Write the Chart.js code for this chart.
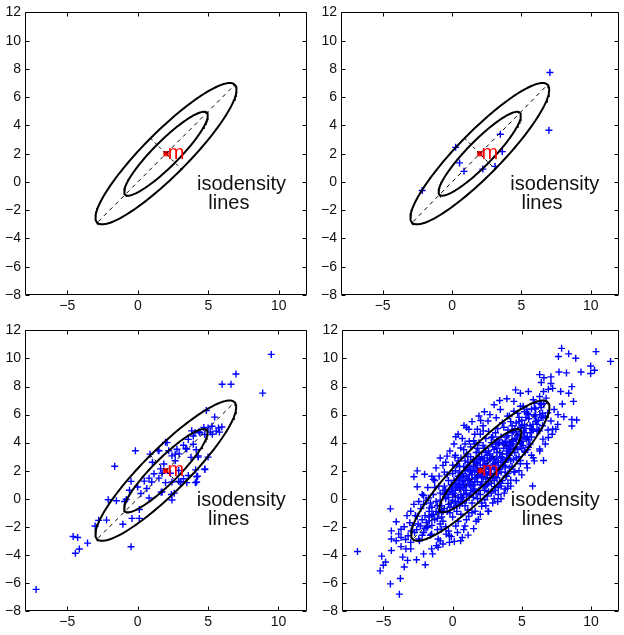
<!DOCTYPE html>
<html>
<head>
<meta charset="utf-8">
<script src="https://cdn.jsdelivr.net/npm/chart.js@4/dist/chart.umd.min.js"></script>
<style>
	html, body { margin: 0; padding: 0; background: #fff; }
	#page { position: relative; width: 624px; height: 635px; overflow: hidden; }
	.panel { position: absolute; }
</style>
</head>
<body>
<div id="page"></div>
<script>

// axis ticks (same for every panel)
const xTicks = [-5, 0, 5, 10];
const yTicks = [-8, -6, -4, -2, 0, 2, 4, 6, 8, 10, 12];
const xRange = [-8, 12];
const yRange = [-8, 12];

// gaussian: mean and the two isodensity ellipses (semi axes along 45 deg)
const mean = [2, 2];
const innerAxes = [4.1, 0.9];
const outerAxes = [6.9, 1.55];
const majorAxis = [[-2.8, -2.8], [6.8, 6.8]];
const minorAxis = [[0.9, 3.1], [3.1, 0.9]];

const labelLines = ['isodensity', 'lines'];
const labelAt = [[4.2, -0.15], [5.0, -1.5]];

// samples
const samplesA = [];

const samplesB = [
	[7.05, 7.75], [6.98, 3.66], [-2.15, -0.6], [0.26, 2.45], [0.54, 1.35],
	[0.86, 0.75], [2.22, 0.91], [3.10, 1.10], [3.48, 3.38], [3.62, 2.15]
];

const samplesC = [
	[9.49, 10.29], [6.98, 8.89], [6.63, 8.16], [6.0, 8.16], [8.88, 7.53], [4.88, 6.29], [5.47, 5.82],
	[5.0, 5.05], [5.28, 5.17], [5.74, 5.05], [5.98, 5.12], [5.58, 4.82], [5.81, 4.75], [5.16, 4.75],
	[4.77, 4.58], [4.42, 4.70], [3.95, 4.47], [3.60, 4.23], [3.26, 3.81], [2.79, 3.53], [3.95, 3.88],
	[3.42, 3.58], [4.16, 3.49], [4.30, 3.06], [3.79, 2.95], [4.77, 2.13], [4.12, 2.06], [4.26, 1.61],
	[4.19, 1.19], [3.60, 1.66], [3.26, 1.43], [2.91, 1.24], [2.91, 2.01], [2.33, 1.82], [2.67, 2.71],
	[2.44, 3.06], [2.21, 3.42], [2.09, 4.0], [1.51, 3.42], [0.88, 3.18], [-0.16, 3.42], [-1.63, 2.32],
	[1.86, 2.48], [1.63, 2.13], [1.74, 1.82], [1.51, 1.47], [1.0, 1.19], [0.81, 1.47], [1.16, 1.78],
	[0.65, 0.73], [0.23, 0.37], [0.0, 0.84], [0.47, 1.26], [2.44, 1.19], [1.98, 1.15], [1.74, 0.49],
	[2.40, 0.30], [2.44, -0.09], [3.02, 1.19], [3.49, 1.15], [1.05, 2.60], [2.67, 3.18], [-0.47, 1.24],
	[-0.58, 0.61], [-0.81, -0.05], [-1.51, -0.14],
	[4.70, 5.08], [4.37, 4.77], [4.07, 4.72], [3.84, 4.84], [4.3, 2.97], [5.0, 2.97], [4.77, 2.08],
	[4.19, 1.57], [3.07, 1.22], [0.81, 0.05], [1.67, 0.47], [2.6, 0.4], [-0.93, -0.19], [0.12, -0.77],
	[-0.4, -1.4], [0.12, -1.4], [-1.05, -1.82], [-2.09, -0.07], [-2.21, -1.52], [-2.77, -1.54],
	[-3.02, -1.94], [-0.47, -3.42], [-3.56, -3.16], [-4.14, -3.58], [-4.26, -2.76], [-4.58, -2.69],
	[-4.42, -3.88], [-7.21, -6.46], [1.98, 4.02], [1.47, 3.44], [2.95, 3.2], [3.49, 3.55], [5.3, 4.6],
	[4.1, 1.15]
];

const samplesD = [
	// outer cloud
	[11.42, 9.79], [10.26, 9.16], [10.37, 10.49], [9.98, 9.46], [9.98, 8.93], [9.28, 9.04], [8.90, 10.02],
	[8.39, 10.33], [7.88, 10.72], [7.65, 10.14], [7.69, 9.04], [8.23, 8.97], [7.11, 8.69], [7.11, 8.22],
	[6.60, 8.62], [6.29, 8.85], [6.41, 8.29], [6.92, 7.80], [7.23, 7.87], [6.57, 7.64], [5.48, 7.64],
	[4.55, 7.76], [4.90, 7.52], [3.92, 7.13], [4.43, 6.94], [3.45, 6.36], [3.96, 5.89], [7.81, 7.64],
	[8.62, 7.99], [8.74, 6.94], [8.39, 7.52], [7.93, 6.75], [7.62, 6.0], [8.04, 5.84], [8.62, 5.65],
	[8.97, 5.61], [8.62, 5.19], [7.46, 4.95], [7.23, 4.95], [6.92, 4.37], [6.53, 4.25], [6.29, 3.55],
	[6.57, 2.73], [5.83, 2.92], [5.36, 2.50], [5.78, 0.91], [3.96, 0.75], [3.73, 0.40], [3.26, -0.19],
	[2.56, -0.89], [1.86, -1.47], [1.52, -2.13], [1.12, -2.59], [0.58, -2.99], [0.12, -3.04],
	[-0.23, -3.11], [-1.05, -3.46], [-1.45, -3.93], [-2.10, -3.93], [-1.98, -4.70], [-2.61, -4.35],
	[-3.26, -4.39], [-3.50, -4.86], [-3.78, -5.68], [-3.85, -6.80], [-4.50, -6.07], [-4.85, -4.51],
	[-5.13, -4.09], [-5.24, -5.14], [-5.01, -4.74], [-6.88, -3.76], [-4.50, -0.72], [-4.08, -1.64],
	[-4.43, -2.29], [-4.43, -2.87], [-4.43, -3.69], [-3.73, -2.17], [-3.73, -2.76], [-3.73, -3.41],
	[-4.08, -2.99], [-3.22, -2.64], [-3.38, -3.57], [-3.61, -4.16], [-3.03, -3.11], [-3.10, -1.71],
	[-2.56, 0.86], [-2.80, 1.57], [-2.56, 1.99], [-2.03, 1.75], [-2.45, -0.19], [-2.10, 0.23],
	[-1.68, -0.65], [-1.75, 0.05], [-1.40, 1.38], [-0.98, 1.61], [-0.70, 2.38], [-0.40, 3.04],
	[0.16, 2.97], [0.23, 4.42], [0.82, 5.23], [1.17, 4.95], [2.03, 5.58], [1.79, 4.95], [2.21, 4.84],
	[2.56, 5.54], [3.15, 5.77], [3.26, 5.0], [2.80, 4.37], [1.52, 4.14], [0.58, 3.62], [-3.03, -0.89],
	[-2.56, -1.24], [-2.33, -1.94], [-1.86, -2.06], [-1.52, -2.52], [-1.05, -2.87], [-0.82, -2.17],
	[-0.47, -2.52], [-1.70, -1.59], [-2.10, -2.41], [-2.75, -2.41], [-2.45, -2.87], [-3.03, -3.57],
	[5.24, 3.32], [4.90, 2.73], [5.48, 3.67], [4.43, 1.92], [4.20, 1.33], [3.85, 1.61], [3.50, 1.10],
	[3.03, 0.86], [2.80, 0.40], [2.33, -0.07], [2.10, -0.54], [1.63, -0.89], [1.17, -1.24],
	[0.89, -1.94], [0.35, -2.41], [0.23, -1.94], [0.70, -2.76], [-0.23, -2.64], [-0.70, -3.22],
	[-1.17, -3.34], [-1.52, -3.57], [5.13, 4.84], [6.06, 5.54], [6.41, 6.71], [5.94, 6.47], [5.36, 6.36],
	[4.90, 6.59], [4.43, 6.24], [5.83, 7.06], [6.29, 7.29], [6.76, 7.17], [6.88, 6.12], [6.53, 5.77],
	[5.83, 4.95], [5.36, 4.25], [6.29, 4.84], [7.11, 5.54], [7.34, 6.36],
	// flanks of the outer ellipse
	[-1.8, 0.8], [-1.5, 1.6], [-1.2, 2.2], [-0.9, 2.9], [-0.5, 2.6], [-0.2, 3.4], [0.1, 3.9], [0.4, 4.6],
	[0.7, 4.3], [1.0, 5.1], [1.4, 5.5], [1.9, 5.9], [2.3, 6.2], [2.7, 6.0], [3.0, 6.7], [3.4, 7.0],
	[2.2, 5.2], [1.6, 4.6], [0.9, 3.9], [0.2, 3.1], [-0.6, 1.9], [-1.3, 1.3], [-2.2, 0.3], [-2.8, -0.4],
	[-3.3, -1.2], [-3.5, -2.0], [-3.9, -2.5], [-2.9, -1.9], [-3.4, -2.9],
	[-0.3, -2.3], [0.4, -1.6], [1.0, -1.5], [1.4, -1.0], [2.0, -1.1], [2.4, -0.5], [2.9, -0.3], [3.3, 0.3],
	[3.8, 0.7], [4.2, 0.9], [4.6, 1.3], [5.0, 1.7], [5.4, 2.2], [5.9, 2.7], [6.3, 3.4], [6.7, 3.9],
	[7.2, 4.6], [7.6, 5.3], [6.9, 4.9], [5.7, 3.1], [4.8, 2.0], [4.0, 1.1], [3.5, 0.0], [2.6, -0.9],
	[1.7, -1.6], [0.8, -2.2], [-0.1, -2.7], [-0.9, -3.0],
	// dense core
	[-2.0, -1.2], [-1.8, -2.0], [-1.5, -0.6], [-1.3, -1.5], [-1.2, -0.2], [-1.0, -1.0], [-0.9, 0.4],
	[-0.8, -0.5], [-0.7, -1.6], [-0.6, 0.9], [-0.5, 0.0], [-0.4, -0.9], [-0.3, 1.3], [-0.2, 0.5],
	[-0.1, -0.3], [0.0, 1.8], [0.0, 0.9], [0.1, -0.6], [0.2, 0.2], [0.3, 1.4], [0.3, 2.4], [0.4, -0.2],
	[0.5, 0.7], [0.5, 1.9], [0.6, 2.9], [0.7, 0.1], [0.7, 1.2], [0.8, 2.3], [0.9, -0.5], [0.9, 0.6],
	[1.0, 1.6], [1.0, 3.2], [1.1, 2.6], [1.2, 0.2], [1.2, 1.0], [1.3, 2.0], [1.3, 3.7], [1.4, -0.3],
	[1.4, 1.4], [1.5, 2.8], [1.6, 0.7], [1.6, 1.9], [1.7, 3.3], [1.8, 1.2], [1.8, 2.5], [1.9, 4.0],
	[2.0, 0.3], [2.0, 1.7], [2.1, 3.0], [2.2, 0.9], [2.2, 2.2], [2.3, 3.6], [2.4, 1.4], [2.4, 4.3],
	[2.5, 2.7], [2.6, 0.5], [2.6, 1.9], [2.7, 3.2], [2.8, 1.1], [2.8, 4.0], [2.9, 2.4], [3.0, 0.0],
	[3.0, 3.5], [3.1, 1.6], [3.1, 4.7], [3.2, 2.9], [3.3, 0.8], [3.3, 3.9], [3.4, 2.1], [3.5, 4.4],
	[3.6, 1.3], [3.6, 3.2], [3.7, 5.1], [3.8, 2.6], [3.9, 3.8], [4.0, 1.8], [4.0, 4.9], [4.1, 3.1],
	[4.2, 5.5], [4.3, 2.3], [4.3, 4.2], [4.4, 3.6], [4.5, 5.0], [4.6, 2.9], [4.7, 4.5], [4.8, 5.8],
	[4.9, 3.9], [5.0, 5.2], [5.1, 4.4], [5.2, 6.2], [5.3, 5.0], [5.4, 3.5], [5.5, 5.7], [5.6, 4.7],
	[5.7, 6.4], [5.8, 5.3], [6.0, 6.0], [6.1, 4.8], [6.2, 5.6], [6.4, 6.5], [6.5, 5.2],
	[-2.5, -1.8], [-2.3, -0.7], [-2.2, -2.6], [-1.9, -0.1], [-1.7, -1.3], [-1.6, -2.6], [-1.4, 0.3],
	[-1.1, -2.2], [-1.0, 0.9], [-0.8, -1.3], [-0.6, 0.3], [-0.5, -2.0], [-0.4, 1.7], [-0.3, -0.4],
	[-0.1, 1.0], [0.0, -1.3], [0.1, 0.4], [0.2, 2.0], [0.3, -0.9], [0.4, 1.0], [0.6, -1.1], [0.6, 0.3],
	[0.7, 1.8], [0.8, 3.5], [0.9, 1.3], [1.0, -0.1], [1.1, 2.1], [1.2, 4.1], [1.3, 0.6], [1.5, 2.3],
	[1.5, 0.1], [1.6, 3.9], [1.7, 1.5], [1.8, 0.0], [1.9, 2.9], [2.0, 4.6], [2.1, 1.2], [2.2, 2.7],
	[2.3, 0.6], [2.4, 3.3], [2.5, 1.7], [2.6, 4.8], [2.7, 2.2], [2.8, 0.5], [2.9, 3.7], [3.0, 1.3],
	[3.1, 2.6], [3.2, 4.2], [3.3, 1.8], [3.4, 3.3], [3.5, 0.9], [3.6, 5.4], [3.7, 2.4], [3.8, 4.1],
	[3.9, 1.6], [4.0, 3.4], [4.1, 5.9], [4.2, 2.7], [4.4, 4.8], [4.5, 1.9], [4.6, 3.7], [4.7, 6.1],
	[4.8, 3.0], [4.9, 5.1], [5.0, 4.1], [5.1, 6.6], [5.2, 3.4], [5.4, 4.4], [5.5, 6.0], [5.6, 3.9],
	[5.8, 4.9], [5.9, 6.8], [6.0, 5.5], [6.3, 6.0], [6.6, 6.8], [6.7, 5.9],
	[-3.0, -2.3], [-2.7, -1.2], [-2.4, -3.0], [-2.1, -0.4], [-2.0, -2.1], [-1.7, -0.9], [-1.5, -1.9],
	[-1.3, 0.8], [-1.2, -0.9], [-0.9, -1.8], [-0.7, 0.6], [-0.6, -0.7], [-0.2, -1.0], [-0.1, 0.7],
	[0.0, 2.4], [0.2, -0.2], [0.3, 0.8], [0.4, 2.7], [0.5, -0.5], [0.6, 1.5], [0.8, 0.3], [0.8, 1.0],
	[0.9, 2.7], [1.0, 0.9], [1.1, -0.8], [1.2, 1.7], [1.3, 3.0], [1.4, 0.9], [1.6, 2.6], [1.7, 0.4],
	[1.8, 3.6], [1.9, 1.9], [2.0, 2.4], [2.1, -0.3], [2.2, 3.8], [2.3, 1.8], [2.4, 2.5], [2.5, 0.2],
	[2.6, 3.4], [2.7, 1.5], [2.9, 4.4], [3.0, 2.1], [3.1, 0.6], [3.2, 3.3], [3.4, 1.2], [3.5, 2.7],
	[3.6, 4.0], [3.8, 1.9], [3.9, 3.2], [4.0, 4.5], [4.1, 2.2], [4.2, 3.8], [4.3, 5.2], [4.5, 3.3],
	[4.6, 4.2], [4.8, 5.5], [4.9, 2.5], [5.0, 3.6], [5.2, 4.7], [5.3, 5.8], [5.5, 4.2], [5.7, 5.0],
	[6.0, 6.4], [6.2, 4.9], [6.4, 5.8],
	[-2.6, -2.2], [-2.2, -1.5], [-1.9, -1.7], [-1.6, -0.3], [-1.4, -1.1], [-1.1, -0.5], [-0.9, -0.1],
	[-0.7, -0.9], [-0.5, 0.6], [-0.3, 0.1], [-0.2, -0.6], [0.0, 0.3], [0.1, 1.3], [0.2, 0.6], [0.4, 0.1],
	[0.4, 1.6], [0.5, 2.3], [0.6, 0.9], [0.7, -0.3], [0.8, 1.6], [0.9, 2.0], [1.0, 0.4], [1.1, 1.3],
	[1.1, 3.0], [1.2, 2.4], [1.3, 1.2], [1.4, 2.0], [1.5, 0.5], [1.6, 1.2], [1.7, 2.2], [1.8, 1.6],
	[1.9, 3.3], [2.0, 1.0], [2.1, 2.0], [2.2, 1.5], [2.3, 2.9], [2.4, 0.9], [2.5, 2.3], [2.6, 1.2],
	[2.7, 2.8], [2.8, 1.8], [2.9, 3.0], [3.0, 2.5], [3.1, 3.9], [3.2, 1.5], [3.3, 2.6], [3.4, 4.0],
	[3.5, 1.9], [3.6, 2.9], [3.7, 3.6], [3.8, 2.3], [3.9, 4.4], [4.0, 2.9], [4.1, 4.0], [4.2, 3.3],
	[4.3, 4.7], [4.4, 2.8], [4.5, 4.3], [4.6, 5.4], [4.7, 3.5], [4.8, 4.6], [4.9, 4.0], [5.0, 5.6],
	[5.1, 3.8], [5.2, 5.3], [5.3, 4.3], [5.4, 6.1], [5.6, 5.2], [5.7, 4.4], [5.9, 5.9], [6.1, 5.3],
	[6.3, 6.8], [6.5, 6.1],
	[0.2, 1.1], [0.5, 1.3], [0.8, 0.8], [1.0, 2.2], [1.2, 1.4], [1.4, 1.7], [1.5, 1.0], [1.7, 2.6],
	[1.8, 2.0], [2.0, 2.8], [2.1, 1.6], [2.3, 2.4], [2.4, 1.9], [2.5, 3.1], [2.6, 2.1], [2.8, 2.9],
	[2.9, 1.5], [3.0, 2.8], [3.1, 2.2], [3.2, 3.6], [3.3, 2.4], [3.5, 3.0], [3.6, 2.3], [3.7, 3.9],
	[3.9, 2.8], [4.0, 3.7], [4.1, 3.5], [4.3, 3.9], [4.4, 4.1], [4.6, 4.8], [0.0, -0.1], [-0.4, 0.4],
	[-0.8, -0.8], [-1.1, -1.4], [-1.5, -1.2], [0.3, -0.5], [0.6, 0.0], [1.3, 0.3], [1.9, 0.6], [2.5, 1.0]
];

// where each panel sits on the page and where its plot box is inside it
const panels = [
	{ left: 0, top: 0, width: 312, height: 318, box: [25, 9, 310, 295], samples: samplesA },
	{ left: 312, top: 0, width: 312, height: 318, box: [29, 9, 311, 295], samples: samplesB },
	{ left: 0, top: 318, width: 312, height: 317, box: [25, 8, 310, 293], samples: samplesC },
	{ left: 312, top: 318, width: 312, height: 317, box: [30, 8, 311, 293], samples: samplesD }
];

const FONT = "'Liberation Sans', Arial, Helvetica, sans-serif";
const BLUE = 'rgb(0,0,255)';

function fmtTick(v){
	return v < 0 ? '\u2212' + Math.abs(v) : String(v);
}

function toXY(list){
	return list.map((p) => { return {x: p[0], y: p[1]}; });
}

// sample an ellipse rotated 45 degrees around the mean
function ellipse(axes){
	var pts = [];
	var c = Math.SQRT1_2;
	for (var i = 0; i <= 144; i++) {
		var t = i / 144 * Math.PI * 2;
		var u = axes[0] * Math.cos(t);
		var v = axes[1] * Math.sin(t);
		pts.push({x: mean[0] + (u - v) * c, y: mean[1] + (u + v) * c});
	}
	return pts;
}

// box, inward ticks on all four sides, and the text labels
const framePlugin = {
	id: 'frame',
	afterDraw(chart){
		const ctx = chart.ctx;
		const a = chart.chartArea;
		const sx = chart.scales.x;
		const sy = chart.scales.y;
		const len = 4;
		const L = Math.round(a.left) + 0.5, R = Math.round(a.right) - 0.5;
		const T = Math.round(a.top) + 0.5, B = Math.round(a.bottom) - 0.5;

		ctx.save();
		ctx.setLineDash([]);
		ctx.globalAlpha = 1;
		ctx.strokeStyle = '#000000';
		ctx.lineWidth = 1;
		ctx.beginPath();
		ctx.moveTo(L, T); ctx.lineTo(R, T); ctx.lineTo(R, B); ctx.lineTo(L, B); ctx.closePath();

		xTicks.forEach((v) => {
			var px = Math.round(sx.getPixelForValue(v)) + 0.5;
			ctx.moveTo(px, B); ctx.lineTo(px, B - len);
			ctx.moveTo(px, T); ctx.lineTo(px, T + len);
		});
		yTicks.forEach((v) => {
			var py = Math.round(sy.getPixelForValue(v)) + 0.5;
			ctx.moveTo(L, py); ctx.lineTo(L + len, py);
			ctx.moveTo(R, py); ctx.lineTo(R - len, py);
		});
		ctx.stroke();

		// "m" next to the mean
		ctx.fillStyle = '#ff0000';
		ctx.font = '20px ' + FONT;
		ctx.textAlign = 'left';
		ctx.textBaseline = 'alphabetic';
		ctx.fillText('m', sx.getPixelForValue(2.12), sy.getPixelForValue(1.6));

		ctx.fillStyle = '#111';
		ctx.font = '20px ' + FONT;
		ctx.textBaseline = 'middle';
		labelLines.forEach((txt, i) => {
			ctx.fillText(txt, sx.getPixelForValue(labelAt[i][0]), sy.getPixelForValue(labelAt[i][1]));
		});
		ctx.restore();
	}
};

function makePanel(p){
	var div = document.createElement('div');
	div.className = 'panel';
	div.style.left = p.left + 'px';
	div.style.top = p.top + 'px';
	var canvas = document.createElement('canvas');
	canvas.width = p.width;
	canvas.height = p.height;
	canvas.style.width = p.width + 'px';
	canvas.style.height = p.height + 'px';
	div.appendChild(canvas);
	document.getElementById('page').appendChild(div);

	var line = (data, width, dash) => {
		return {
			data: data, showLine: true, borderColor: '#000', borderWidth: width,
			borderDash: dash, pointRadius: 0, tension: 0, fill: false, order: 0
		};
	};

	var datasets = [
		line(ellipse(outerAxes), 2, []),
		line(ellipse(innerAxes), 2, []),
		line(toXY(majorAxis), 1, [4, 4]),
		line(toXY(minorAxis), 1, [3, 3]),
		{
			data: toXY([mean]), pointStyle: 'rect', pointRadius: 3,
			backgroundColor: '#ff0000', borderColor: '#ff0000', borderWidth: 1, order: 0
		},
		{
			data: toXY(p.samples), pointStyle: 'cross', pointRadius: 3.5,
			borderColor: BLUE, backgroundColor: BLUE, borderWidth: 1.4, order: 1
		}
	];

	new Chart(canvas, {
		type: 'scatter',
		data: { datasets: datasets },
		plugins: [framePlugin],
		options: {
			responsive: false,
			animation: false,
			devicePixelRatio: 1,
			events: [],
			layout: { padding: { left: 0, top: p.box[1], right: p.width - p.box[2], bottom: 0 } },
			plugins: { legend: { display: false }, tooltip: { enabled: false } },
			scales: {
				x: {
					type: 'linear', min: xRange[0], max: xRange[1],
					grid: { display: false, drawTicks: false }, border: { display: false },
					afterBuildTicks: (s) => { s.ticks = xTicks.map((v) => { return {value: v}; }); },
					afterFit: (s) => { s.height = p.height - p.box[3]; },
					ticks: { color: '#111', padding: 3, font: { family: FONT, size: 14 }, callback: fmtTick, maxRotation: 0, autoSkip: false }
				},
				y: {
					type: 'linear', min: yRange[0], max: yRange[1],
					grid: { display: false, drawTicks: false }, border: { display: false },
					afterBuildTicks: (s) => { s.ticks = yTicks.map((v) => { return {value: v}; }); },
					afterFit: (s) => { s.width = p.box[0]; },
					ticks: { color: '#111', padding: 4, font: { family: FONT, size: 14 }, callback: fmtTick, autoSkip: false }
				}
			}
		}
	});
}

panels.forEach(makePanel);

</script>
</body>
</html>
